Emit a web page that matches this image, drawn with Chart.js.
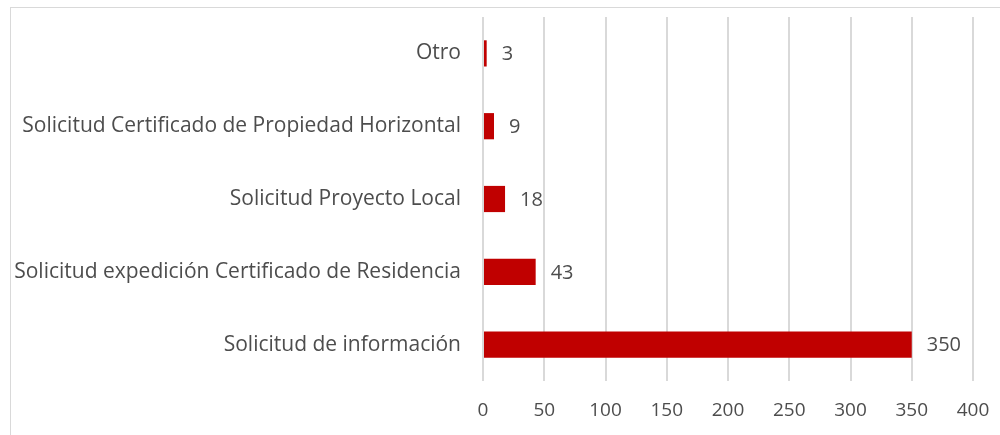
<!DOCTYPE html>
<html>
<head>
<meta charset="utf-8">
<script src="https://cdn.jsdelivr.net/npm/chart.js@4/dist/chart.umd.min.js"></script>
<style>
  body { margin: 0; background: #fff; }
  #wrap { position: absolute; left: 0; top: 0; width: 1000px; height: 435px; }
  #frame { position: absolute; left: 10px; top: 7px; width: 1000px; height: 440px; border: 1px solid #d9d9d9; }
</style>
</head>
<body>
<div id="frame"></div>
<div id="wrap"><canvas id="chjs_chart0" width="1000" height="435"></canvas></div>
<script>
// categories top to bottom
const categories = [
  "Otro",
  "Solicitud Certificado de Propiedad Horizontal",
  "Solicitud Proyecto Local",
  "Solicitud expedición Certificado de Residencia",
  "Solicitud de información"
];
const values = [3, 9, 18, 43, 350];
const x_ticks = [0, 50, 100, 150, 200, 250, 300, 350, 400];

const FONT = "'Open Sans', 'Liberation Sans', sans-serif";
const TXT = "#4d4d4d";

// value labels to the right of each bar
const bar_labels = {
  id: "bar_labels",
  afterDatasetsDraw(chart){
    const ctx = chart.ctx;
    const meta = chart.getDatasetMeta(0);
    ctx.save();
    ctx.font = "20px " + FONT;
    ctx.fillStyle = TXT;
    ctx.textAlign = "left";
    ctx.textBaseline = "middle";
    meta.data.forEach((bar, i) => {
      ctx.fillText(String(values[i]), bar.x + 15, bar.y + 1);
    });
    ctx.restore();
  }
};

new Chart(document.getElementById("chjs_chart0"), {
  type: "bar",
  data: {
    labels: categories,
    datasets: [{
      data: values,
      backgroundColor: "#c00000",
      borderWidth: 0,
      barPercentage: 0.36,
      categoryPercentage: 1.0
    }]
  },
  options: {
    indexAxis: "y",
    responsive: false,
    animation: false,
    layout: { padding: { top: 17, right: 27, left: 0, bottom: 0 } },
    plugins: { legend: { display: false }, tooltip: { enabled: false } },
    scales: {
      x: {
        min: 0,
        max: 400,
        afterBuildTicks(scale){ scale.ticks = x_ticks.map(v => ({ value: v })); },
        afterFit(scale){
          scale.height = 54;
          scale.paddingLeft = 0;
          scale.paddingRight = 0;
        },
        grid: { color: "#d9d9d9", lineWidth: 2, drawTicks: false },
        border: { display: false },
        ticks: { padding: 18, color: TXT, font: { family: FONT, size: 19 } }
      },
      y: {
        afterFit(scale){
          scale.width = 483;
          scale.paddingTop = 0;
          scale.paddingBottom = 0;
        },
        grid: { display: false, drawTicks: false },
        border: { display: false },
        ticks: { padding: 22, color: TXT, font: { family: FONT, size: 21 } }
      }
    }
  },
  plugins: [bar_labels]
});
</script>
</body>
</html>
